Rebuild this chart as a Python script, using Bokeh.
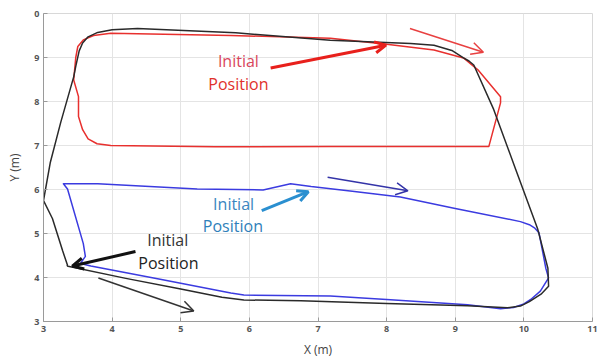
from bokeh.plotting import figure
from bokeh.models import Arrow, OpenHead, ColumnDataSource, FixedTicker, Range1d
from bokeh.core.properties import value
from bokeh.embed import file_html
from bokeh.resources import INLINE

# --- data ---
black_x = [3.34, 4.2, 5.0, 5.6, 5.92, 6.75, 8.0, 9.18, 9.76, 9.95, 10.08, 10.25, 10.36, 10.35, 10.2, 9.88, 9.56, 9.27, 9.2, 9.12, 8.95, 8.69, 8.35, 7.18, 5.8, 4.37, 4.0, 3.79, 3.65, 3.57, 3.52, 3.47, 3.44, 3.25, 3.1, 3.0, 3.13, 3.28, 3.35, 3.34]
black_y = [4.26, 3.98, 3.74, 3.55, 3.49, 3.47, 3.41, 3.36, 3.31, 3.35, 3.45, 3.62, 3.8, 4.21, 5.11, 6.46, 7.82, 8.83, 8.92, 8.99, 9.16, 9.28, 9.32, 9.39, 9.56, 9.66, 9.63, 9.57, 9.47, 9.33, 9.15, 8.8, 8.56, 7.52, 6.62, 5.75, 5.34, 4.6, 4.28, 4.26]

red_x = [8.0, 8.69, 9.12, 9.33, 9.66, 9.66, 9.49, 8.45, 7.18, 5.5, 3.98, 3.78, 3.65, 3.57, 3.51, 3.51, 3.44, 3.47, 3.5, 3.58, 3.73, 3.98, 5.73, 7.18, 8.0]
red_y = [9.3, 9.17, 8.99, 8.72, 8.11, 7.97, 6.98, 6.98, 6.98, 6.97, 7.0, 7.04, 7.15, 7.36, 7.66, 8.11, 8.49, 9.0, 9.25, 9.4, 9.5, 9.55, 9.5, 9.44, 9.3]

blue_x = [6.9, 7.5, 8.2, 9.0, 9.95, 10.08, 10.16, 10.22, 10.32, 10.36, 10.24, 10.1, 10.0, 9.85, 9.66, 9.18, 8.0, 7.18, 5.92, 5.73, 4.7, 3.69, 3.54, 3.61, 3.58, 3.35, 3.29, 3.79, 5.24, 6.2, 6.6, 6.9]
blue_y = [6.07, 5.96, 5.83, 5.57, 5.27, 5.2, 5.12, 5.02, 4.21, 3.99, 3.69, 3.5, 3.4, 3.32, 3.29, 3.38, 3.5, 3.58, 3.6, 3.65, 3.96, 4.26, 4.32, 4.48, 4.77, 6.01, 6.13, 6.13, 6.01, 5.99, 6.13, 6.07]

# annotation arrows: (x_start, y_start, x_end, y_end)
init_arrows = {
    "red": (6.31, 8.76, 7.99, 9.28),
    "blue": (6.18, 5.52, 6.86, 5.95),
    "black": (4.34, 4.59, 3.42, 4.26),
}
dir_arrows = {
    "red": (8.34, 9.66, 9.41, 9.12),
    "blue": (7.14, 6.28, 8.31, 5.97),
    "black": (3.8, 3.99, 5.19, 3.24),
}
label_text = ["Initial", "Position", "Initial", "Position", "Initial", "Position"]
label_x = [5.84, 5.84, 5.77, 5.76, 4.81, 4.82]
label_y = [8.92, 8.40, 5.68, 5.16, 4.86, 4.32]
label_color = ["#d9465c", "#e0302c", "#3a86c0", "#2f7fba", "#333333", "#222222"]

x_ticks = [3, 4, 5, 6, 7, 8, 9, 10, 11]
y_ticks = [3, 4, 5, 6, 7, 8, 9, 10]
y_tick_labels = {10: "0"}

# --- figure ---
p = figure(width=602, height=360, output_backend="svg", toolbar_location=None,
           x_range=Range1d(3, 11), y_range=Range1d(3, 10),
           min_border_left=43, min_border_right=10, min_border_top=13, min_border_bottom=36)
p.background_fill_color = "white"
p.border_fill_color = "white"
p.outline_line_color = "#d8d8d8"

p.xaxis.ticker = FixedTicker(ticks=x_ticks)
p.yaxis.ticker = FixedTicker(ticks=y_ticks)
p.yaxis.major_label_overrides = y_tick_labels
for ax in (p.xaxis[0], p.yaxis[0]):
    ax.axis_line_color = "#9a9a9a"
    ax.major_tick_line_color = "#9a9a9a"
    ax.major_tick_in = 4
    ax.major_tick_out = 0
    ax.minor_tick_line_color = None
    ax.major_label_text_font = "Open Sans"
    ax.major_label_text_font_size = "9px"
    ax.major_label_text_font_style = "bold"
    ax.major_label_text_color = "#555555"
    ax.axis_label_text_font = "Open Sans"
    ax.axis_label_text_font_size = "12px"
    ax.axis_label_text_font_style = "normal"
    ax.axis_label_text_color = "#444444"
p.xaxis.axis_label = "X (m)"
p.yaxis.axis_label = "Y (m)"
p.xaxis.major_label_standoff = 4
p.xaxis.axis_label_standoff = 6
p.yaxis.major_label_standoff = 4
p.yaxis.axis_label_standoff = 8

p.xgrid.grid_line_color = "#e4e4e4"
p.ygrid.grid_line_color = "#e4e4e4"

p.line(red_x, red_y, line_color="#e8302e", line_width=1.5, line_join="round")
p.line(blue_x, blue_y, line_color="#3b3be0", line_width=1.5, line_join="round")
p.line(black_x, black_y, line_color="#2a2a2a", line_width=1.5, line_join="round")

colors = {"red": "#e8201c", "blue": "#2a8fd0", "black": "#111111"}
dir_colors = {"red": "#e84040", "blue": "#3434a8", "black": "#333333"}
for k, (x0, y0, x1, y1) in init_arrows.items():
    p.add_layout(Arrow(end=OpenHead(size=11, line_color=colors[k], line_width=3),
                       x_start=x0, y_start=y0, x_end=x1, y_end=y1,
                       line_color=colors[k], line_width=3))
for k, (x0, y0, x1, y1) in dir_arrows.items():
    p.add_layout(Arrow(end=OpenHead(size=12, line_color=dir_colors[k], line_width=1.5),
                       x_start=x0, y_start=y0, x_end=x1, y_end=y1,
                       line_color=dir_colors[k], line_width=1.5))

src = ColumnDataSource(dict(x=label_x, y=label_y, t=label_text, c=label_color))
p.text("x", "y", text="t", source=src, text_color="c", text_align="center",
       text_baseline="middle", text_font=value("Open Sans"), text_font_size="16px")

open("out.html", "w").write(file_html(p, INLINE))
